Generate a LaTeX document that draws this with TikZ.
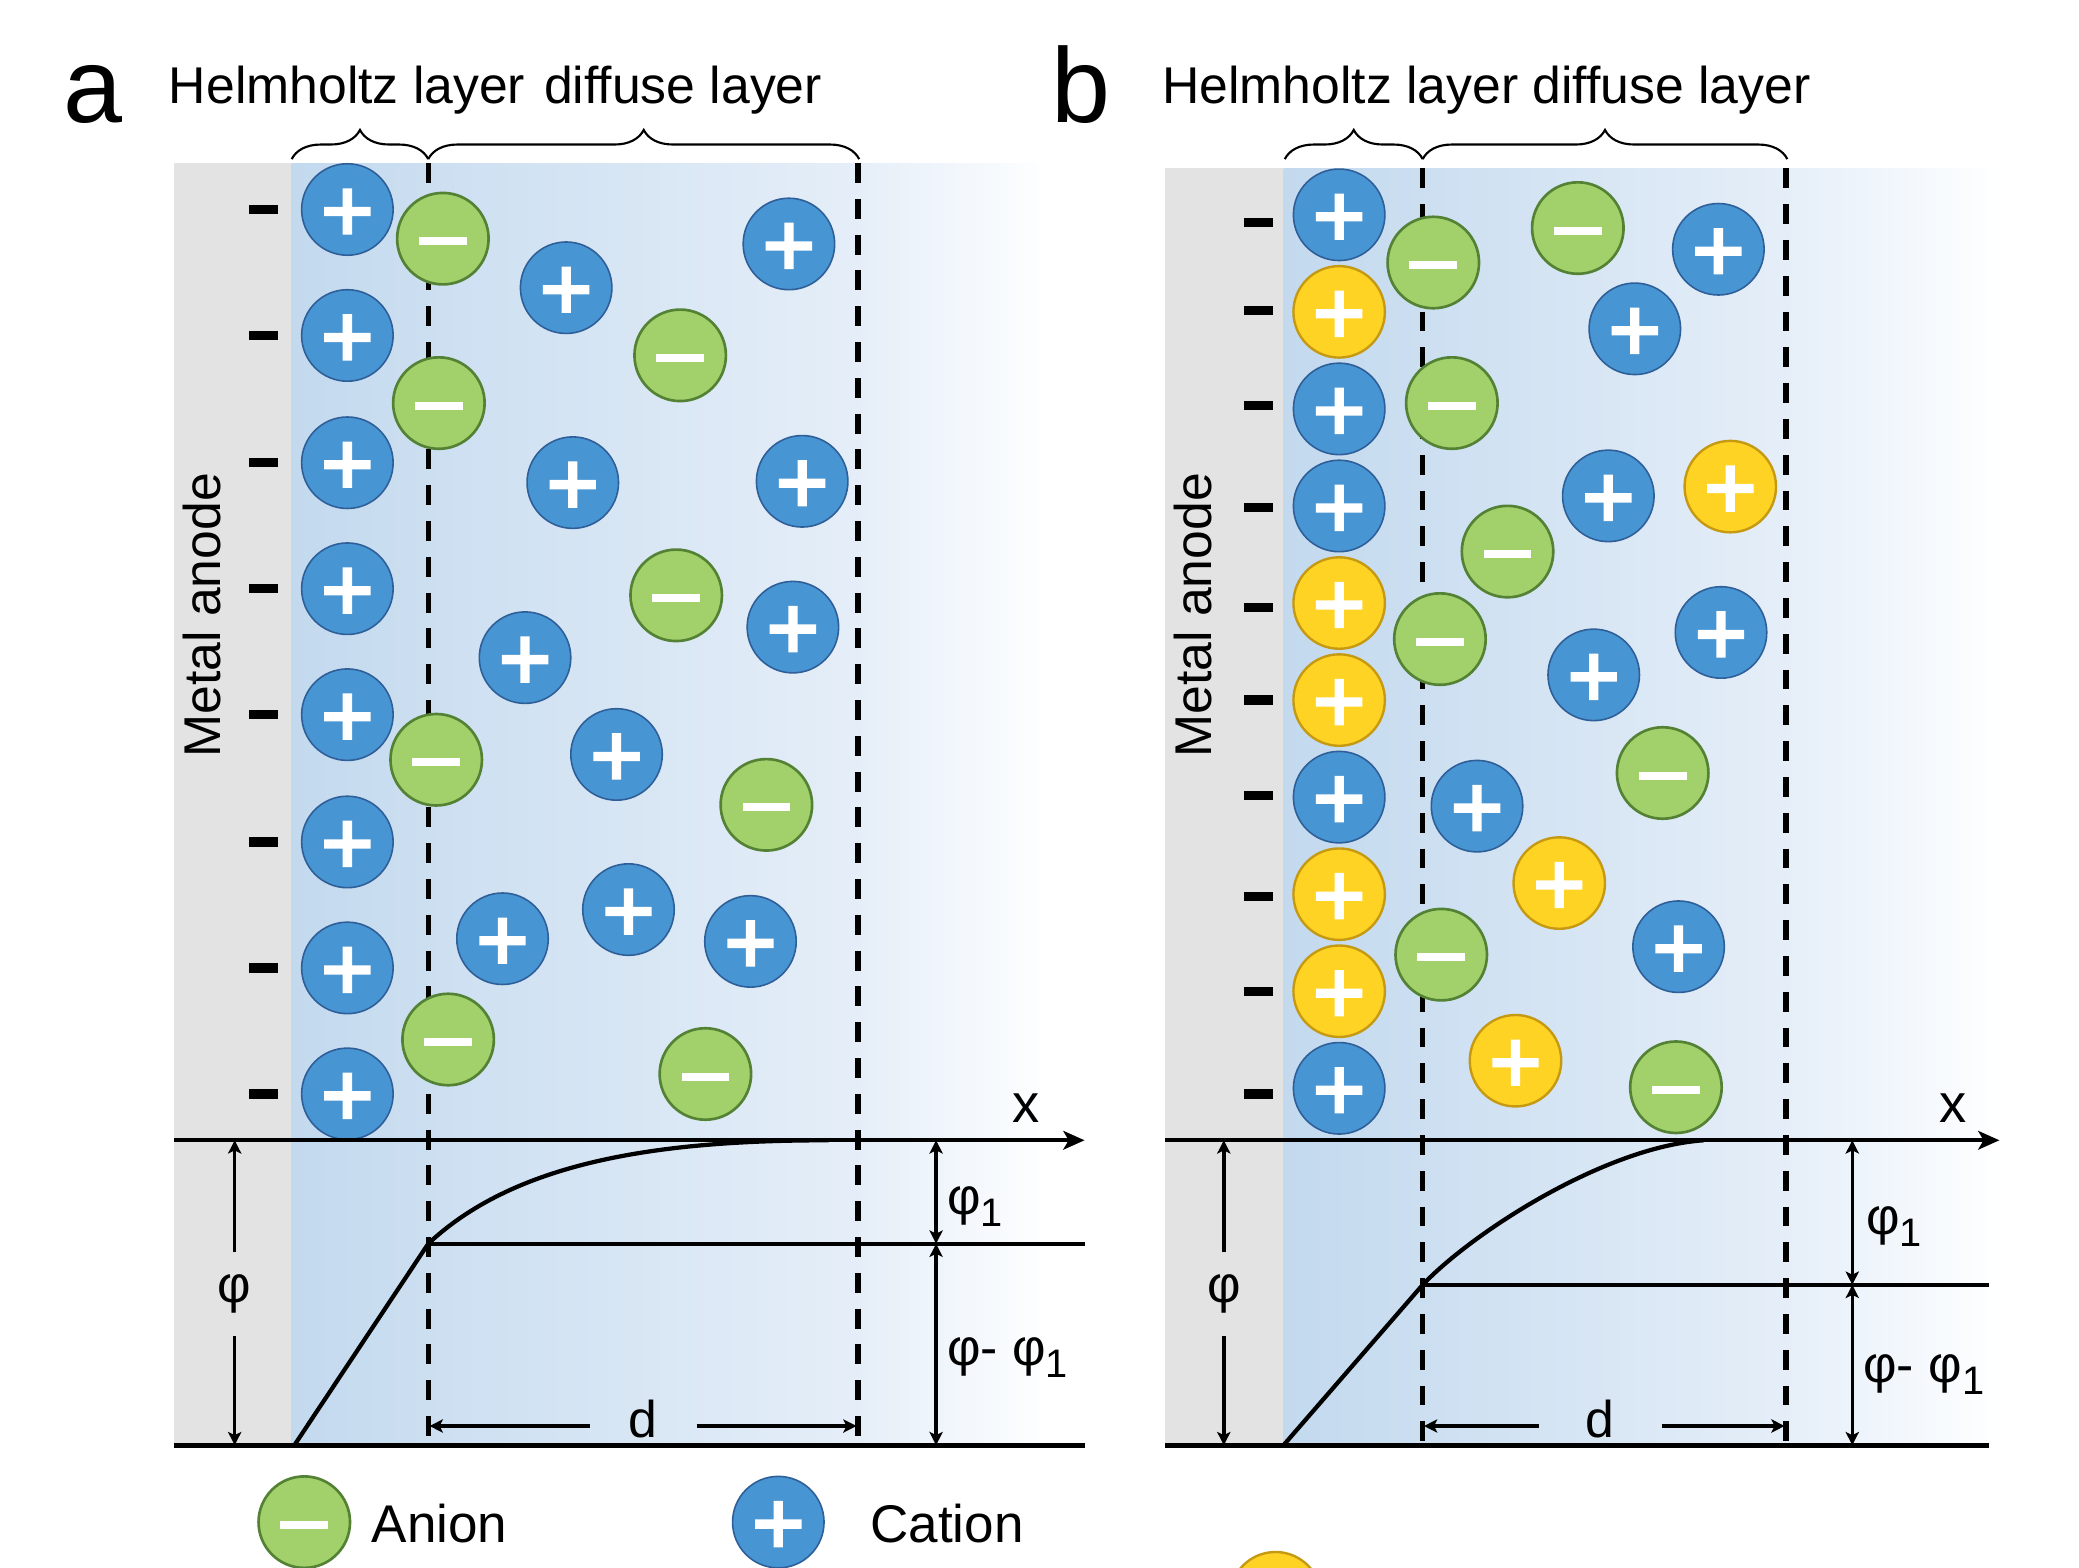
\documentclass[tikz,border=0pt]{standalone}
\usepackage{fontspec}
\setmainfont{Liberation Sans}
\usetikzlibrary{arrows.meta,decorations.pathreplacing,positioning}

\definecolor{metalgray}{HTML}{E3E3E3}
\definecolor{bandA}{HTML}{C3D9EE}
\definecolor{bandB}{HTML}{CCDFF1}
\definecolor{bandC}{HTML}{E5EEF8}
\definecolor{bandD}{HTML}{FDFEFF}
\definecolor{cationfill}{HTML}{4895D3}
\definecolor{cationline}{HTML}{2F5F98}
\definecolor{anionfill}{HTML}{A2D06A}
\definecolor{anionline}{HTML}{548235}
\definecolor{extrafill}{HTML}{FFD324}
\definecolor{extraline}{HTML}{C59A12}

%% Solution shadings, stops sit on the two dashed planes
\pgfdeclarehorizontalshading{layerA}{100bp}{color(0bp)=(bandA); color(25bp)=(bandA); color(34.1bp)=(bandB); color(62.8bp)=(bandC); color(75bp)=(bandD); color(100bp)=(bandD)}
\pgfdeclarehorizontalshading{layerB}{100bp}{color(0bp)=(bandA); color(25bp)=(bandA); color(34.9bp)=(bandB); color(60.6bp)=(bandC); color(75bp)=(bandD); color(100bp)=(bandD)}

%% subscript one, set low as in the plot labels
\newcommand{\subone}{\raisebox{-4.5pt}{\fontsize{15}{17}\selectfont 1}}

\begin{document}
\begin{tikzpicture}[
	x=0.5pt, y=-0.5pt,
	word/.style = {inner sep=0pt, font=\fontsize{19.5}{23}\selectfont},
	ion/.style = {circle, minimum size=34.5pt, inner sep=0pt},
	plus sign/.style = {path picture={
		\fill[white, shift={(path picture bounding box.center)}]
			(-8.75pt,-2.5pt) rectangle (8.75pt,1pt)
			(-1.75pt,-9.5pt) rectangle (1.75pt,8pt);}},
	minus sign/.style = {path picture={
		\fill[white, shift={(path picture bounding box.center)}]
			(-9pt,-2.5pt) rectangle (9pt,0.5pt);}},
	cation/.style = {ion, plus sign, fill=cationfill, draw=cationline, line width=0.6pt},
	extra cation/.style = {ion, plus sign, fill=extrafill, draw=extraline, line width=0.9pt},
	anion/.style = {ion, minus sign, fill=anionfill, draw=anionline, line width=1pt},
	charge/.style = {fill=black, minimum width=11pt, minimum height=3.5pt, inner sep=0pt},
	boundary/.style = {line width=2pt, dash pattern=on 7.5pt off 6pt},
	layer brace/.style = {decorate, decoration={brace, amplitude=11pt}, line width=0.8pt},
	x axis line/.style = {line width=1.5pt, -{Stealth[length=8pt, width=7pt, inset=2pt]}},
	ground line/.style = {line width=1.8pt},
	potential/.style = {line width=1.6pt},
	dimarrow/.style = {line width=1.35pt, -{Stealth[length=5pt, width=5pt, inset=1.2pt]}},
	twoway/.style = {line width=1.35pt, {Stealth[length=5pt, width=5pt, inset=1.2pt]}-{Stealth[length=5pt, width=5pt, inset=1.2pt]}},
]
	\useasboundingbox (0,0) rectangle (1568,1182);
	\fill[white] (0,0) rectangle (1568,1182);

	%% ================= panel a =================
	\node[word, font=\fontsize{40}{48}\selectfont] (a-tag) at (70,71) {a};
	\node[word, anchor=base west] (a-hh) at (127,78) {Helmholtz layer};
	\node[word, anchor=base west] (a-dh) at (410,78) {diffuse layer};

	%% metal and solution
	\fill[metalgray] (131,123) rectangle (220,1090);
	\shade[shading=layerA] (220,123) rectangle (785,1090);

	%% the two planes
	\coordinate (a-ohp-t) at (323,123);
	\coordinate (a-ohp-b) at (323,1090);
	\coordinate (a-end-t) at (647,123);
	\coordinate (a-end-b) at (647,1090);
	\draw[boundary] (a-ohp-t) -- (a-ohp-b);
	\draw[boundary] (a-end-t) -- (a-end-b);

	%% braces
	\coordinate (a-b0) at (220,120);
	\coordinate (a-b1) at (323,120);
	\coordinate (a-b2) at (648,120);
	\draw[layer brace] (a-b0) -- (a-b1);
	\draw[layer brace] (a-b1) -- (a-b2);

	%% surface charge and Helmholtz row
	\foreach [count=\n] \y in {158,253,349,444,539,635,730,825}{%
		\node[charge] (a-q-\n) at (199,\y) {};
		\node[cation] (a-h-\n) at (262,\y) {};
	}

	%% diffuse layer ions
	\foreach [count=\n] \p in {(427,217), (595,184), (432,364), (605,363), (598,473),
		(396,496), (465,569), (379,708), (474,686), (566,710)}{%
		\node[cation] (a-c-\n) at \p {};
	}
	\foreach [count=\n] \p in {(334,180), (331,304), (513,268), (510,449),
		(329,573), (578,607), (338,784), (532,810)}{%
		\node[anion] (a-a-\n) at \p {};
	}

	%% potential plot
	\coordinate (a-o) at (131,860);
	\coordinate (a-xend) at (818,860);
	\coordinate (a-g0) at (131,1090);
	\coordinate (a-g1) at (818,1090);
	\draw[x axis line] (a-o) -- (a-xend);
	\draw[ground line] (a-g0) -- (a-g1);
	\node[word, font=\fontsize{20.5}{24}\selectfont] (a-x) at (774,836) {x};

	\coordinate (a-p0) at (222,1090);
	\coordinate (a-p1) at (323,938);
	\coordinate (a-p2) at (625,860);
	\coordinate (a-p3) at (818,938);
	\draw[potential] (a-p0) -- (a-p1) .. controls (390,875) and (500,860) .. (a-p2);
	\draw[potential] (a-p1) -- (a-p3);

	%% total potential
	\node[word, minimum height=31pt] (a-phi) at (177,976) {φ};
	\coordinate (a-phi-t) at (177,860);
	\coordinate (a-phi-b) at (177,1090);
	\draw[dimarrow] (a-phi) -- (a-phi-t);
	\draw[dimarrow] (a-phi) -- (a-phi-b);

	%% partial potentials
	\coordinate (a-r0) at (706,860);
	\coordinate (a-r1) at (706,938);
	\coordinate (a-r2) at (706,1090);
	\draw[twoway] (a-r0) -- (a-r1);
	\draw[twoway] (a-r1) -- (a-r2);
	\node[word, anchor=west] (a-phi1) at (714,910) {φ\subone};
	\node[word, anchor=west] (a-phid) at (714,1024) {φ- φ\subone};

	%% thickness d
	\node[word, minimum width=40pt] (a-d) at (485,1070) {d};
	\coordinate (a-dl) at (324,1075.5);
	\coordinate (a-dr) at (646,1075.5);
	\draw[dimarrow] (a-d.west |- a-dl) -- (a-dl);
	\draw[dimarrow] (a-d.east |- a-dr) -- (a-dr);

	%% Metal anode
	\node[word, rotate=90] (a-metal) at (152,464) {Metal anode};

	%% legend
	\node[anion] (leg-an) at (229.5,1148) {};
	\node[word, anchor=base west, font=\fontsize{20}{24}\selectfont] (leg-an-t) at (280,1163) {Anion};
	\node[cation] (leg-cat) at (587,1148) {};
	\node[word, anchor=base west, font=\fontsize{20}{24}\selectfont] (leg-cat-t) at (656,1163) {Cation};

	%% ================= panel b =================
	\node[word, font=\fontsize{40}{48}\selectfont] (b-tag) at (815,63.5) {b};
	\node[word, anchor=base west] (b-head) at (876,78) {Helmholtz layer diffuse layer};

	\fill[metalgray] (879,127) rectangle (968,1090);
	\shade[shading=layerB] (968,127) rectangle (1500,1090);

	\coordinate (b-ohp-t) at (1073,127);
	\coordinate (b-ohp-b) at (1073,1090);
	\coordinate (b-end-t) at (1347,127);
	\coordinate (b-end-b) at (1347,1090);
	\draw[boundary] (b-ohp-t) -- (b-ohp-b);
	\draw[boundary] (b-end-t) -- (b-end-b);

	\coordinate (b-b0) at (969,120);
	\coordinate (b-b1) at (1073,120);
	\coordinate (b-b2) at (1348,120);
	\draw[layer brace] (b-b0) -- (b-b1);
	\draw[layer brace] (b-b1) -- (b-b2);

	%% surface charge
	\foreach [count=\n] \y in {168,234,306,383,458,528,600,676,748,825}{%
		\node[charge] (b-q-\n) at (949,\y) {};
	}
	%% Helmholtz row, mixed cations
	\foreach [count=\n] \k in {cation, extra cation, cation, cation, extra cation,
		extra cation, cation, extra cation, extra cation, cation}{%
		\pgfmathsetmacro\yPos{162+73.2*(\n-1)}
		\node[\k] (b-h-\n) at (1010,\yPos) {};
	}

	%% diffuse layer ions
	\foreach [count=\n] \p in {(1296,188), (1233,248), (1213,374), (1298,477),
		(1202,509), (1114,608), (1266,714)}{%
		\node[cation] (b-c-\n) at \p {};
	}
	\foreach [count=\n] \p in {(1305,367), (1176,666), (1143,800)}{%
		\node[extra cation] (b-e-\n) at \p {};
	}
	\foreach [count=\n] \p in {(1081,198), (1190,172), (1095,304), (1137,416),
		(1086,482), (1254,583), (1087,720), (1264,820)}{%
		\node[anion] (b-a-\n) at \p {};
	}

	%% potential plot
	\coordinate (b-o) at (879,860);
	\coordinate (b-xend) at (1508,860);
	\coordinate (b-g0) at (879,1090);
	\coordinate (b-g1) at (1500,1090);
	\draw[x axis line] (b-o) -- (b-xend);
	\draw[ground line] (b-g0) -- (b-g1);
	\node[word, font=\fontsize{20.5}{24}\selectfont] (b-x) at (1473,836) {x};

	\coordinate (b-p0) at (968,1090);
	\coordinate (b-p1) at (1073,969);
	\coordinate (b-p2) at (1285,860);
	\coordinate (b-p3) at (1500,969);
	\draw[potential] (b-p0) -- (b-p1) .. controls (1110,930) and (1210,865) .. (b-p2);
	\draw[potential] (b-p1) -- (b-p3);

	\node[word, minimum height=31pt] (b-phi) at (923,976) {φ};
	\coordinate (b-phi-t) at (923,860);
	\coordinate (b-phi-b) at (923,1090);
	\draw[dimarrow] (b-phi) -- (b-phi-t);
	\draw[dimarrow] (b-phi) -- (b-phi-b);

	\coordinate (b-r0) at (1397,860);
	\coordinate (b-r1) at (1397,969);
	\coordinate (b-r2) at (1397,1090);
	\draw[twoway] (b-r0) -- (b-r1);
	\draw[twoway] (b-r1) -- (b-r2);
	\node[word, anchor=west] (b-phi1) at (1407,925) {φ\subone};
	\node[word, anchor=west] (b-phid) at (1405,1037) {φ- φ\subone};

	\node[word, minimum width=46pt] (b-d) at (1207,1070) {d};
	\coordinate (b-dl) at (1074,1075.5);
	\coordinate (b-dr) at (1346,1075.5);
	\draw[dimarrow] (b-d.west |- b-dl) -- (b-dl);
	\draw[dimarrow] (b-d.east |- b-dr) -- (b-dr);

	\node[word, rotate=90] (b-metal) at (900,464) {Metal anode};

	%% cut legend ion at the lower edge
	\node[ion, fill=extrafill, draw=extraline, line width=0.9pt] (b-leg) at (962,1205) {};

\end{tikzpicture}
\end{document}
